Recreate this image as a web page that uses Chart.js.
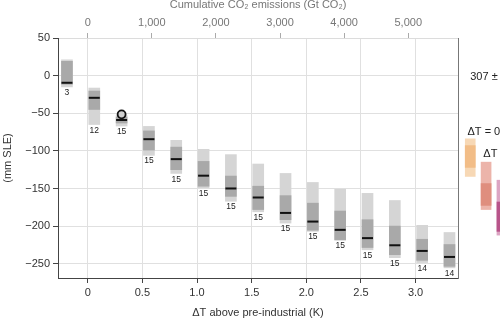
<!DOCTYPE html>
<html>
<head>
<meta charset="utf-8">
<script src="https://cdn.jsdelivr.net/npm/chart.js@4.4.1/dist/chart.umd.min.js"></script>
<style>
  html, body { margin: 0; padding: 0; background: #fff; }
</style>
</head>
<body>
<canvas id="chart" width="500" height="319"></canvas>
<script>
// bin centres, warming above pre-industrial (K)
const binT = [-0.19, 0.06, 0.31, 0.56, 0.81, 1.06, 1.31, 1.56, 1.81, 2.06, 2.31, 2.56, 2.81, 3.06, 3.31];
// sea level contribution (mm SLE) per bin
const outerHigh = [21, -16.5, -53, -67.5, -86, -98, -105, -117.5, -130, -142, -151, -156.5, -166, -199, -208.5];
const innerHigh = [19, -20.5, -55, -73.5, -95, -114, -133.5, -147, -159.5, -169.5, -180, -191.5, -200, -217.5, -224.5];
const median = [-9.5, -29.5, -59, -84.5, -111, -133, -150, -162, -182.5, -194, -205, -216, -225.5, -233, -241];
const innerLow = [-11.5, -45, -63, -99, -125, -147, -160.5, -178, -191.5, -205.5, -218, -228.5, -238, -245.5, -253.5];
const outerLow = [-15, -65, -67, -106, -130, -149, -167, -181, -196, -207, -219, -231.5, -242, -248.5, -255.5];
const counts = [3, 12, 15, 15, 15, 15, 15, 15, 15, 15, 15, 15, 15, 14, 14];

// single observed point
const obsT = [0.31];
const obsSLE = [-51.5];

// bars of the neighbouring panel, cut off at the right edge
const sideT = [3.50, 3.645, 3.79];
const sideOuterHigh = [-84, -115, -139];
const sideInnerHigh = [-93, -143.5, -168];
const sideMedian = [-112, -159, -191.5];
const sideInnerLow = [-122, -172.5, -207];
const sideOuterLow = [-134, -178, -212];
const sideOuterColor = ['#f7d8b5', '#ecb4aa', '#dca5c3'];
const sideInnerColor = ['#f2bd87', '#df8e7e', '#b8548a'];

const noteText = ['307 \u00b1', '\u0394T = 0', '\u0394T'];
const noteT = [3.50, 3.475, 3.62];
const noteSLE = [-2.3, -75.5, -103.5];

const xTicks = [0, 0.5, 1.0, 1.5, 2.0, 2.5, 3.0];
const topTicks = [0, 1000, 2000, 3000, 4000, 5000];
const yTicks = [50, 0, -50, -100, -150, -200, -250];

Chart.defaults.font.family = '"Liberation Sans", Arial, sans-serif';
Chart.defaults.font.size = 11;

const minus = v => (v < 0 ? '\u2212' + Math.abs(v) : String(v));

const annotations = {
    id: 'annotations',
    afterDatasetsDraw(chart) {
        const { ctx, scales: { x, y } } = chart;
        ctx.save();
        ctx.fillStyle = '#222';
        ctx.font = '8.5px "Liberation Sans", Arial, sans-serif';
        ctx.textAlign = 'center';
        ctx.textBaseline = 'top';
        counts.forEach((n, i) => {
            ctx.fillText(String(n), x.getPixelForValue(binT[i]), y.getPixelForValue(outerLow[i]) + 1.5);
        });
        ctx.font = '11px "Liberation Sans", Arial, sans-serif';
        ctx.textAlign = 'left';
        ctx.textBaseline = 'middle';
        noteText.forEach((t, i) => {
            ctx.fillText(t, x.getPixelForValue(noteT[i]), y.getPixelForValue(noteSLE[i]));
        });
        ctx.restore();
    },
};

const floating = (xs, lo, hi) => xs.map((t, i) => ({ x: t, y: [lo[i], hi[i]] }));
const points = (xs, ys) => xs.map((t, i) => ({ x: t, y: ys[i] }));

new Chart(document.getElementById('chart'), {
    type: 'bar',
    data: {
        datasets: [
            {
                type: 'bar',
                data: floating(binT, outerLow, outerHigh),
                backgroundColor: '#d5d5d5',
                barThickness: 11,
                grouped: false,
                xAxisID: 'x',
                yAxisID: 'y',
                order: 6,
            },
            {
                type: 'bar',
                data: floating(binT, innerLow, innerHigh),
                backgroundColor: '#a9a9a9',
                barThickness: 11,
                grouped: false,
                xAxisID: 'x',
                yAxisID: 'y',
                order: 5,
            },
            {
                type: 'bar',
                data: floating(sideT, sideOuterLow, sideOuterHigh),
                backgroundColor: sideOuterColor,
                barThickness: 10,
                grouped: false,
                clip: false,
                xAxisID: 'x',
                yAxisID: 'y',
                order: 4,
            },
            {
                type: 'bar',
                data: floating(sideT, sideInnerLow, sideInnerHigh),
                backgroundColor: sideInnerColor,
                barThickness: 10,
                grouped: false,
                clip: false,
                xAxisID: 'x',
                yAxisID: 'y',
                order: 3,
            },
            {
                type: 'scatter',
                data: points(binT.concat(sideT), median.concat(sideMedian)),
                pointStyle: 'line',
                pointRadius: 5.5,
                borderWidth: 2,
                borderColor: '#111',
                clip: false,
                xAxisID: 'x',
                yAxisID: 'y',
                order: 2,
            },
            {
                type: 'scatter',
                data: points(obsT, obsSLE),
                pointStyle: 'circle',
                pointRadius: 4,
                borderWidth: 1.8,
                borderColor: '#111',
                backgroundColor: '#cfcfcf',
                xAxisID: 'x',
                yAxisID: 'y',
                order: 1,
            },
        ],
    },
    options: {
        responsive: false,
        animation: false,
        devicePixelRatio: 1,
        events: [],
        layout: { padding: { right: 42 } },
        plugins: { legend: { display: false }, tooltip: { enabled: false } },
        scales: {
            x: {
                type: 'linear',
                position: 'bottom',
                offset: false,
                min: -0.272,
                max: 3.388,
                afterBuildTicks: (s) => { s.ticks = xTicks.map((v) => ({ value: v })); },
                afterFit: (s) => { s.height = 41; },
                ticks: {
                    color: '#333',
                    padding: 3,
                    maxRotation: 0,
                    autoSkip: false,
                    callback: (v) => (v === 0 ? '0' : v.toFixed(1)),
                },
                grid: { offset: false, color: '#e0e0e0', tickColor: '#444', tickLength: 5 },
                border: { color: '#444' },
                title: {
                    display: true,
                    text: '\u0394T above pre-industrial (K)',
                    color: '#333',
                    padding: { top: 0, bottom: -0.6 },
                },
            },
            x2: {
                type: 'linear',
                position: 'top',
                offset: false,
                min: -463,
                max: 5776,
                afterBuildTicks: (s) => { s.ticks = topTicks.map((v) => ({ value: v })); },
                afterFit: (s) => { s.height = 38; },
                ticks: {
                    color: '#777',
                    padding: 3,
                    maxRotation: 0,
                    autoSkip: false,
                    callback: (v) => v.toLocaleString('en-US'),
                },
                grid: { offset: false, drawOnChartArea: false, tickColor: '#aaa', tickLength: 5 },
                border: { color: '#dcdcdc' },
                title: {
                    display: true,
                    text: 'Cumulative CO\u2082 emissions (Gt CO\u2082)',
                    color: '#777',
                    padding: { top: -1.5, bottom: 0 },
                },
            },
            y: {
                type: 'linear',
                position: 'left',
                min: -269,
                max: 50,
                afterBuildTicks: (s) => { s.ticks = yTicks.map((v) => ({ value: v })); },
                afterFit: (s) => { s.width = 58; },
                ticks: { color: '#333', padding: 3, callback: minus },
                grid: { color: '#e0e0e0', tickColor: '#444', tickLength: 5 },
                border: { color: '#444' },
                title: {
                    display: true,
                    text: '(mm SLE)',
                    color: '#333',
                    padding: { top: 1.5, bottom: 0 },
                },
            },
            y2: {
                type: 'linear',
                position: 'right',
                afterFit: (s) => { s.width = 0; },
                ticks: { display: false },
                grid: { drawOnChartArea: false, drawTicks: false },
                border: { color: '#777' },
            },
        },
    },
    plugins: [annotations],
});
</script>
</body>
</html>
